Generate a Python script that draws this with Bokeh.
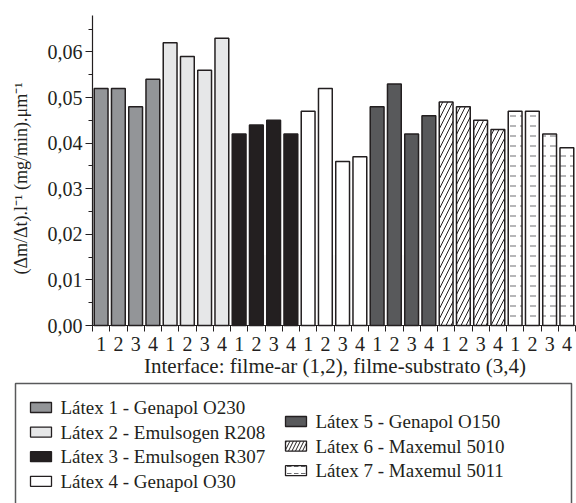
import math
from bokeh.plotting import figure
from bokeh.models import FixedTicker, ColumnDataSource, Range1d
from bokeh.embed import file_html
from bokeh.resources import INLINE
from bokeh.core.properties import value

# ---- data ----
latex_names = [
    "Látex 1 - Genapol O230",
    "Látex 2 - Emulsogen R208",
    "Látex 3 - Emulsogen R307",
    "Látex 4 - Genapol O30",
    "Látex 5 - Genapol O150",
    "Látex 6 - Maxemul 5010",
    "Látex 7 - Maxemul 5011",
]
interfaces = ["1", "2", "3", "4"]
latex1 = [0.052, 0.052, 0.048, 0.054]
latex2 = [0.062, 0.059, 0.056, 0.063]
latex3 = [0.042, 0.044, 0.045, 0.042]
latex4 = [0.047, 0.052, 0.036, 0.037]
latex5 = [0.048, 0.053, 0.042, 0.046]
latex6 = [0.049, 0.048, 0.045, 0.043]
latex7 = [0.047, 0.047, 0.042, 0.039]
series = [latex1, latex2, latex3, latex4, latex5, latex6, latex7]
y_tick_values = [0.0, 0.01, 0.02, 0.03, 0.04, 0.05, 0.06]
y_tick_labels = ["0,00", "0,01", "0,02", "0,03", "0,04", "0,05", "0,06"]
x_title = "Interface: filme-ar (1,2), filme-substrato (3,4)"
y_title = "(\u0394m/\u0394t).l\u207b\u00b9 (mg/min).\u03bcm\u207b\u00b9"

# ---- styles ----
fills = ["#939598", "#e6e7e8", "#231f20", "#ffffff", "#58595b", "#ffffff", "#ffffff"]
hatches = ["blank", "blank", "blank", "blank", "blank", "/", '"']
hatch_colors = ["#231f20", "#231f20", "#231f20", "#231f20", "#231f20", "#231f20", "#6d6e71"]
FONT = "Liberation Serif"
INK = "#231f20"

# ---- layout (pixels) ----
W, H = 576, 503
FL, FR, FT, FB = 92, 575, 15, 325      # data area inside the canvas
Y_MAX = 0.068

xs, tops, fc, hp, hc, labels = [], [], [], [], [], []
k = 0
for s_i, vals in enumerate(series):
    for j, v in enumerate(vals):
        xs.append(k + 0.5)
        tops.append(v)
        fc.append(fills[s_i])
        hp.append(hatches[s_i])
        hc.append(hatch_colors[s_i])
        labels.append(interfaces[j])
        k += 1
n = k
src = ColumnDataSource(dict(x=xs, top=tops, fill=fc, hatch=hp, hcolor=hc))

sx = (FR - FL) / n
sy = (FB - FT) / Y_MAX
x_rng = Range1d(-FL / sx, n + (W - FR) / sx)
y_rng = Range1d(-(H - FB) / sy, Y_MAX + FT / sy)

p = figure(width=W, height=H, output_backend="svg", toolbar_location=None,
           x_range=x_rng, y_range=y_rng,
           min_border_left=0, min_border_right=0, min_border_top=0, min_border_bottom=0)
p.title.visible = False
p.outline_line_color = None
p.xgrid.grid_line_color = None
p.ygrid.grid_line_color = None
p.extra_x_ranges = {"px": Range1d(0, W)}
p.extra_y_ranges = {"py": Range1d(0, H)}

p.vbar(x="x", top="top", width=0.8, source=src, fill_color="fill",
       line_color=INK, line_width=1.5, hatch_pattern="hatch", hatch_color="hcolor",
       hatch_scale=10, hatch_weight=1)

# x axis (drawn at y = 0)
xa = p.xaxis[0]
xa.fixed_location = 0
xa.bounds = (0, n)
xa.ticker = FixedTicker(ticks=xs, minor_ticks=list(range(n + 1)))
xa.major_label_overrides = {x: l for x, l in zip(xs, labels)}
xa.major_tick_line_color = None
xa.major_tick_out = 0
xa.major_tick_in = 0
xa.minor_tick_line_color = INK
xa.minor_tick_out = 6
xa.minor_tick_in = 0
xa.major_label_standoff = 5

# y axis (drawn at x = 0)
ya = p.yaxis[0]
ya.fixed_location = 0
ya.bounds = (0, Y_MAX)
ya.ticker = FixedTicker(ticks=y_tick_values,
                        minor_ticks=[i * 0.005 for i in range(14)])
ya.major_label_overrides = {v: l for v, l in zip(y_tick_values, y_tick_labels)}
ya.major_tick_line_color = INK
ya.major_tick_out = 7
ya.major_tick_in = 0
ya.minor_tick_out = 4
ya.minor_tick_in = 0
ya.minor_tick_line_color = INK
ya.major_label_standoff = 3

for ax in (xa, ya):
    ax.axis_line_color = INK
    ax.axis_line_width = 1.2
    ax.major_label_text_font = FONT
    ax.major_label_text_font_size = "20px"
    ax.major_label_text_color = INK

# axis titles (pixel coordinates, y measured up from the canvas bottom)
p.text(x=[(FL + FR) / 2 + 1], y=[H - 365], text=[x_title], x_range_name="px", y_range_name="py",
       text_font=value(FONT), text_font_size="21px", text_color=INK,
       text_align="center", text_baseline="middle")
p.text(x=[20], y=[H - 178], text=[y_title], x_range_name="px", y_range_name="py",
       angle=math.pi / 2, text_font=value(FONT), text_font_size="18px", text_color=INK,
       text_align="center", text_baseline="middle")

# ---- legend box ----
p.quad(left=[15], right=[571], top=[H - 383], bottom=[-20], x_range_name="px", y_range_name="py",
       fill_color="white", line_color="#58595b", line_width=1.5)

col_x = [30, 285]
col_rows = [[0, 1, 2, 3], [4, 5, 6]]
col_y0 = [407, 421]
step = 24.6
sw, sh = 21, 10
for c, idxs in enumerate(col_rows):
    for r, i in enumerate(idxs):
        yc = H - (col_y0[c] + r * step)
        p.quad(left=[col_x[c]], right=[col_x[c] + sw], top=[yc + sh / 2], bottom=[yc - sh / 2],
               x_range_name="px", y_range_name="py",
               fill_color=fills[i], line_color=INK, line_width=1.3,
               hatch_pattern=hatches[i], hatch_color=hatch_colors[i],
               hatch_scale=7, hatch_weight=1)
        p.text(x=[col_x[c] + sw + 9], y=[yc], text=[latex_names[i]],
               x_range_name="px", y_range_name="py",
               text_font=value(FONT), text_font_size="19px", text_color=INK,
               text_baseline="middle", text_align="left")

open("out.html", "w").write(file_html(p, INLINE))
